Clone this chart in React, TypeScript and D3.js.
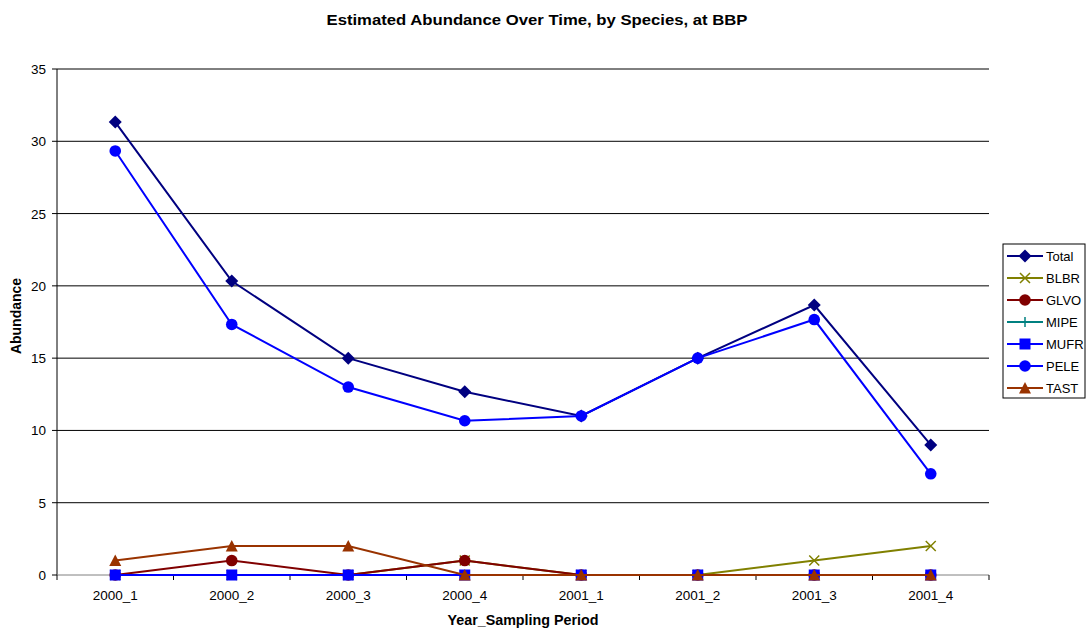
import React from "react";
import * as d3 from "d3";

const categories = ["2000_1", "2000_2", "2000_3", "2000_4", "2001_1", "2001_2", "2001_3", "2001_4"];
const total = [31.33, 20.33, 15, 12.67, 11, 15, 18.67, 9];
const blbr = [0, 0, 0, 1, 0, 0, 1, 2];
const glvo = [0, 1, 0, 1, 0, 0, 0, 0];
const mipe = [0, 0, 0, 0, 0, 0, 0, 0];
const mufr = [0, 0, 0, 0, 0, 0, 0, 0];
const pele = [29.33, 17.33, 13, 10.67, 11, 15, 17.67, 7];
const tast = [1, 2, 2, 0, 0, 0, 0, 0];
const yTicks = [0, 5, 10, 15, 20, 25, 30, 35];

const series = [
  { name: "Total", values: total, color: "#000080", marker: "diamond" },
  { name: "BLBR", values: blbr, color: "#808000", marker: "x" },
  { name: "GLVO", values: glvo, color: "#800000", marker: "circle" },
  { name: "MIPE", values: mipe, color: "#008080", marker: "plus" },
  { name: "MUFR", values: mufr, color: "#0000FF", marker: "square" },
  { name: "PELE", values: pele, color: "#0000FF", marker: "circle" },
  { name: "TAST", values: tast, color: "#993300", marker: "triangle" },
];

const W = 1089, H = 630;
const left = 57, right = 989, top = 69, bottom = 575;
const font = "Arial, 'Liberation Sans', sans-serif";

function Marker({ type, x, y, color }: { type: string; x: number; y: number; color: string }) {
  switch (type) {
    case "diamond":
      return <path d={`M${x},${y - 6.5}L${x + 6.5},${y}L${x},${y + 6.5}L${x - 6.5},${y}Z`} fill={color} />;
    case "circle":
      return <circle cx={x} cy={y} r={5.8} fill={color} />;
    case "square":
      return <rect x={x - 5.5} y={y - 5.5} width={11} height={11} fill={color} />;
    case "triangle":
      return <path d={`M${x},${y - 6}L${x + 6},${y + 5.5}L${x - 6},${y + 5.5}Z`} fill={color} />;
    case "x":
      return (
        <path d={`M${x - 5},${y - 5}L${x + 5},${y + 5}M${x - 5},${y + 5}L${x + 5},${y - 5}`} stroke={color} strokeWidth={1.5} fill="none" />
      );
    case "plus":
      return (
        <path d={`M${x - 5},${y}L${x + 5},${y}M${x},${y - 5}L${x},${y + 5}`} stroke={color} strokeWidth={1.5} fill="none" />
      );
    default:
      return null;
  }
}

export default function App() {
  const x = d3.scaleBand<string>().domain(categories).range([left, right]);
  const y = d3.scaleLinear().domain([0, 35]).range([bottom, top]);
  const cx = (c: string) => (x(c) as number) + x.bandwidth() / 2;
  const line = d3
    .line<number>()
    .x((_, i) => cx(categories[i]))
    .y((d) => y(d));

  const boundaries = categories.map((c) => x(c) as number).concat([right]);

  const legX = 1003, legY = 244, legW = 82, legH = 154;

  return (
    <svg width={W} height={H} style={{ display: "block", position: "absolute", left: 0, top: 0 }}>
      <rect width={W} height={H} fill="#fff" />
      <text x={537} y={25} textAnchor="middle" fontFamily={font} fontWeight="bold" fontSize={15} textLength={421} lengthAdjust="spacingAndGlyphs">
        Estimated Abundance Over Time, by Species, at BBP
      </text>
      {yTicks.map((t) => (
        <g key={t}>
          {t > 0 && <line x1={left} x2={right} y1={y(t)} y2={y(t)} stroke="#000" strokeWidth={1} />}
          <line x1={left - 5} x2={left} y1={y(t)} y2={y(t)} stroke="#000" />
          <text x={left - 11} y={y(t) + 5} textAnchor="end" fontFamily={font} fontSize={13.5}>
            {t}
          </text>
        </g>
      ))}
      <line x1={left} x2={left} y1={top} y2={bottom} stroke="#000" />
      <line x1={left} x2={right} y1={bottom} y2={bottom} stroke="#808080" />
      {boundaries.map((b, i) => (
        <line key={i} x1={b} x2={b} y1={bottom} y2={bottom + 5} stroke="#000" />
      ))}
      {categories.map((c) => (
        <text key={c} x={cx(c)} y={600} textAnchor="middle" fontFamily={font} fontSize={13.5}>
          {c}
        </text>
      ))}
      <text x={523} y={625} textAnchor="middle" fontFamily={font} fontWeight="bold" fontSize={14} textLength={151} lengthAdjust="spacingAndGlyphs">
        Year_Sampling Period
      </text>
      <text
        transform={`translate(21,316) rotate(-90)`}
        textAnchor="middle"
        fontFamily={font}
        fontWeight="bold"
        fontSize={14}
      >
        Abundance
      </text>
      {series.map((s) => (
        <g key={s.name}>
          <path d={line(s.values) || ""} fill="none" stroke={s.color} strokeWidth={2} />
          {s.values.map((v, i) => (
            <Marker key={i} type={s.marker} x={cx(categories[i])} y={y(v)} color={s.color} />
          ))}
        </g>
      ))}
      <rect x={legX} y={legY} width={legW} height={legH} fill="#fff" stroke="#000" />
      {series.map((s, i) => {
        const ly = legY + 12 + i * 22;
        return (
          <g key={s.name}>
            <line x1={legX + 4} x2={legX + 40} y1={ly} y2={ly} stroke={s.color} strokeWidth={2} />
            <Marker type={s.marker} x={legX + 22} y={ly} color={s.color} />
            <text x={legX + 43} y={ly + 5} fontFamily={font} fontSize={13}>
              {s.name}
            </text>
          </g>
        );
      })}
    </svg>
  );
}
